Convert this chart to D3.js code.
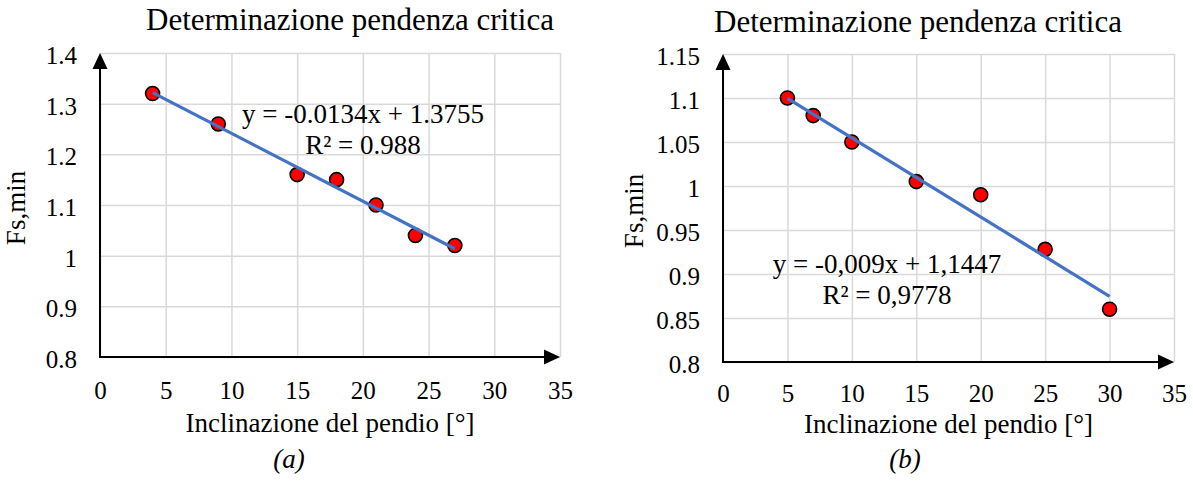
<!DOCTYPE html>
<html>
<head>
<meta charset="utf-8">
<script src="https://cdn.jsdelivr.net/npm/d3@7"></script>
<style>
  body { margin: 0; background: #fff; }
  svg { display: block; }
  svg text { font-family: "Liberation Serif", "Times New Roman", serif; fill: #000; }
</style>
</head>
<body>
<svg id="chart" width="1193" height="481"></svg>
<script>
// chart (a)
const inclA = [4, 9, 15, 18, 21, 24, 27];
const fsA = [1.32, 1.26, 1.16, 1.15, 1.10, 1.04, 1.02];
const yTicksA = [0.8, 0.9, 1, 1.1, 1.2, 1.3, 1.4];

// chart (b)
const inclB = [5, 7, 10, 15, 20, 25, 30];
const fsB = [1.10, 1.08, 1.05, 1.005, 0.99, 0.928, 0.86];
const yTicksB = [0.8, 0.85, 0.9, 0.95, 1, 1.05, 1.1, 1.15];

const xTicks = [0, 5, 10, 15, 20, 25, 30, 35];

// linear trendlines as printed on the charts
const slopes = [-0.0134, -0.009];
const intercepts = [1.3755, 1.1447];
const eqLabels = ["y = -0.0134x + 1.3755", "y = -0,009x + 1,1447"];
const r2Labels = ["R² = 0.988", "R² = 0,9778"];

const chartTitle = "Determinazione pendenza critica";
const xTitle = "Inclinazione del pendio [°]";
const yTitle = "Fs,min";
const captions = ["(a)", "(b)"];

const svg = d3.select("#chart");

function drawPanel(p) {
  const g = svg.append("g");

  const x = d3.scaleLinear().domain([0, 35]).range([p.left, p.right]);
  const y = d3.scaleLinear().domain([p.yTicks[0], p.yTicks[p.yTicks.length - 1]]).range([p.bottom, p.top]);

  // gridlines
  g.append("g")
    .attr("transform", `translate(0,${p.bottom})`)
    .call(d3.axisBottom(x).tickValues(xTicks).tickSize(-(p.bottom - p.top)).tickFormat(""))
    .call(a => a.select(".domain").remove())
    .selectAll("line").attr("stroke", "#d9d9d9").attr("stroke-width", 1.5);

  g.append("g")
    .attr("transform", `translate(${p.left},0)`)
    .call(d3.axisLeft(y).tickValues(p.yTicks).tickSize(-(p.right - p.left)).tickFormat(""))
    .call(a => a.select(".domain").remove())
    .selectAll("line").attr("stroke", "#d9d9d9").attr("stroke-width", 1.5);

  // tick labels
  const yAx = g.append("g")
    .attr("transform", `translate(${p.left},0)`)
    .call(d3.axisLeft(y).tickValues(p.yTicks).tickSize(0).tickPadding(23).tickFormat(d => String(d)))
    .attr("font-family", "Liberation Serif").attr("font-size", 25);
  yAx.select(".domain").remove();
  yAx.selectAll("text").attr("dy", "0.42em");

  const xAx = g.append("g")
    .attr("transform", `translate(0,${p.bottom})`)
    .call(d3.axisBottom(x).tickValues(xTicks).tickSize(0).tickPadding(p.xPad).tickFormat(d => String(d)))
    .attr("font-family", "Liberation Serif").attr("font-size", 25);
  xAx.select(".domain").remove();

  // axes with arrows
  const x0 = x(0), y0 = y.range()[0], yTop = y.range()[1], xEnd = x.range()[1];
  g.append("line")
    .attr("x1", x0).attr("x2", x0).attr("y1", y0).attr("y2", yTop + 14)
    .attr("stroke", "#000").attr("stroke-width", 2);
  g.append("path")
    .attr("d", `M${x0},${yTop}L${x0 - 7.5},${yTop + 16}L${x0 + 7.5},${yTop + 16}Z`)
    .attr("fill", "#000");
  g.append("line")
    .attr("x1", x0 - 1).attr("x2", xEnd - 14).attr("y1", y0).attr("y2", y0)
    .attr("stroke", "#000").attr("stroke-width", 2);
  g.append("path")
    .attr("d", `M${xEnd},${y0}L${xEnd - 16},${y0 - 7.5}L${xEnd - 16},${y0 + 7.5}Z`)
    .attr("fill", "#000");

  // points
  g.selectAll("circle.pt")
    .data(p.xs.map((v, i) => [v, p.ys[i]]))
    .enter().append("circle")
    .attr("class", "pt")
    .attr("cx", d => x(d[0]))
    .attr("cy", d => y(d[1]))
    .attr("r", 7)
    .attr("fill", "#ff0000")
    .attr("stroke", "#000")
    .attr("stroke-width", 1.6);

  // trendline over the data range
  const ext = d3.extent(p.xs);
  const line = d3.line().x(d => x(d)).y(d => y(p.slope * d + p.intercept));
  g.append("path")
    .attr("d", line(ext))
    .attr("fill", "none")
    .attr("stroke", "#4472c4")
    .attr("stroke-width", 3.2);

  // texts
  g.append("text")
    .attr("x", p.titleX).attr("y", p.titleY)
    .attr("text-anchor", "middle").attr("font-size", 31)
    .text(chartTitle);

  g.append("text")
    .attr("x", p.eqX).attr("y", p.eqY)
    .attr("text-anchor", "middle").attr("font-size", 27)
    .text(p.eq);
  g.append("text")
    .attr("x", p.eqX).attr("y", p.eqY + 31)
    .attr("text-anchor", "middle").attr("font-size", 27)
    .text(p.r2);

  g.append("text")
    .attr("x", (p.left + p.right) / 2).attr("y", p.xTitleY)
    .attr("text-anchor", "middle").attr("font-size", 27)
    .text(xTitle);

  g.append("text")
    .attr("transform", `translate(${p.yTitleX},${(p.top + p.bottom) / 2 + 3}) rotate(-90)`)
    .attr("text-anchor", "middle").attr("font-size", 27)
    .text(yTitle);

  g.append("text")
    .attr("x", p.capX).attr("y", 468)
    .attr("text-anchor", "middle").attr("font-size", 27).attr("font-style", "italic")
    .text(p.caption);
}

drawPanel({
  left: 100, right: 560, top: 53, bottom: 357,
  xs: inclA, ys: fsA, yTicks: yTicksA,
  slope: slopes[0], intercept: intercepts[0],
  eq: eqLabels[0], r2: r2Labels[0], eqX: 363, eqY: 123,
  titleX: 350, titleY: 30, xPad: 24, xTitleY: 432, yTitleX: 25,
  capX: 289, caption: captions[0]
});

drawPanel({
  left: 723, right: 1174, top: 54, bottom: 362,
  xs: inclB, ys: fsB, yTicks: yTicksB,
  slope: slopes[1], intercept: intercepts[1],
  eq: eqLabels[1], r2: r2Labels[1], eqX: 887, eqY: 273,
  titleX: 918, titleY: 32, xPad: 22, xTitleY: 433, yTitleX: 643,
  capX: 905, caption: captions[1]
});
</script>
</body>
</html>
